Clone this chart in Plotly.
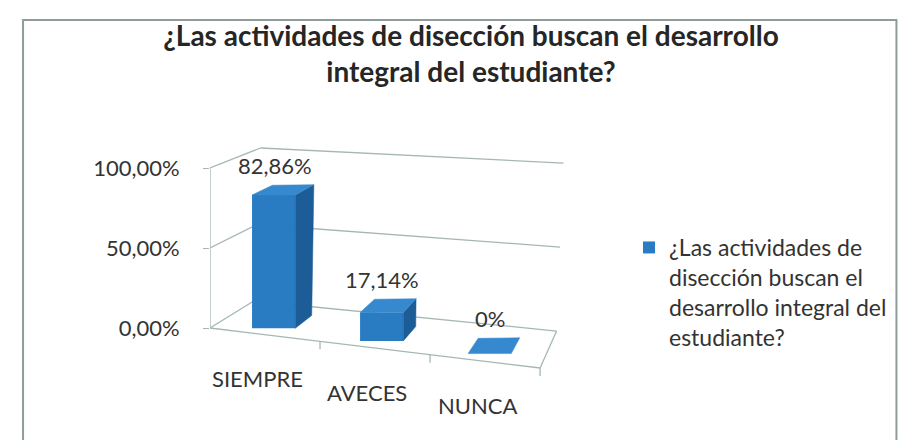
import plotly.graph_objects as go

# ---------------- data ----------------
categories = ["SIEMPRE", "AVECES", "NUNCA"]
values = [0.8286, 0.1714, 0.0]
value_labels = ["82,86%", "17,14%", "0%"]
tick_values = [0.0, 0.5, 1.0]
tick_labels = ["0,00%", "50,00%", "100,00%"]
series_name = "¿Las actividades de disección buscan el desarrollo integral del estudiante?"
legend_text = "¿Las actividades de<br>disección buscan el<br>desarrollo integral del<br>estudiante?"
title_text = "¿Las actividades de disección buscan el desarrollo<br>integral del estudiante?"

# ---------------- layout constants ----------------
W, H = 914, 440
ML, MR, MT, MB = 202, 294, 120, 40
PLOT_W, PLOT_H = W - ML - MR, H - MT - MB
PX_X, PX_Y = 111.0, 160.0     # pixels per axis unit
Y0 = 320                       # pixel row of value 0 on the left wall
X_RANGE = [0, PLOT_W / PX_X]
Y_RANGE = [(Y0 - (H - MB)) / PX_Y, (Y0 - MT) / PX_Y]

FONT = "Lato"
TXT = "#333333"
GRID = "#a6b7b3"
FRONT = "#2a7cc2"
SIDE = "#1c5d98"
TOP = "#3689cf"

# pseudo-3D camera: box corners (u, depth, value) in axis units
CORNERS = {
    (0, 0, 0): (0.000, 0.000), (1, 0, 0): (3.054, -0.250),
    (0, 1, 0): (0.405, 0.169), (1, 1, 0): (3.207, -0.019),
    (0, 0, 1): (0.000, 1.000), (1, 0, 1): (3.090, 0.844),
    (0, 1, 1): (0.468, 1.125), (1, 1, 1): (3.270, 1.031),
}
N = len(categories)


def proj(u, d, v):
    a, b, c = u / N, d, v
    x = y = 0.0
    for (i, j, k), (cx, cy) in CORNERS.items():
        w = (a if i else 1 - a) * (b if j else 1 - b) * (c if k else 1 - c)
        x += w * cx
        y += w * cy
    return x, y


HALF_W, D_FRONT, D_BACK = 0.20, 0.22, 0.66

shapes = []


def seg(p, q, color=GRID, width=1.3):
    shapes.append(dict(type="line", xref="x", yref="y", x0=p[0], y0=p[1], x1=q[0], y1=q[1],
                       line=dict(color=color, width=width), layer="below"))


# walls / gridlines
for t in tick_values:
    seg(proj(0, 0, t), proj(0, 1, t))
    seg(proj(0, 1, t), proj(N, 1, t))
seg(proj(0, 0, 0), proj(0, 0, 1))          # value axis edge
seg(proj(0, 0, 0), proj(N, 0, 0))          # floor front edge
seg(proj(N, 0, 0), proj(N, 1, 0))          # floor right edge
for k in range(1, N + 1):                   # category tick marks
    px, py = proj(k, 0, 0)
    seg((px, py), (px, py - 0.05))


# frame
def paper(px, py):
    return (px - ML) / PLOT_W, (H - MB - py) / PLOT_H


fx0, fy0 = paper(10, 460)
fx1, fy1 = paper(907, 12)
shapes.append(dict(type="rect", xref="paper", yref="paper", x0=fx0, y0=fy0, x1=fx1, y1=fy1,
                   line=dict(color="#8e9d9a", width=2), layer="below"))

# bars
bx, bh, bbase, bw = [], [], [], []
side_x, side_y, top_x, top_y = [], [], [], []
annotations = []
for i, (cat, val, lab) in enumerate(zip(categories, values, value_labels)):
    u = i + 0.5
    xl = proj(u - HALF_W, D_FRONT, 0)[0]
    xr = proj(u + HALF_W, D_FRONT, 0)[0]
    base = proj(u, D_FRONT, 0)[1]
    top = proj(u, D_FRONT, val)[1]
    h = top - base
    bx.append((xl + xr) / 2)
    bw.append(xr - xl)
    bbase.append(base)
    bh.append(h)
    ob = [a - b for a, b in zip(proj(u + HALF_W, D_BACK, 0), proj(u + HALF_W, D_FRONT, 0))]
    otr = [a - b for a, b in zip(proj(u + HALF_W, D_BACK, val), proj(u + HALF_W, D_FRONT, val))]
    otl = [a - b for a, b in zip(proj(u - HALF_W, D_BACK, val), proj(u - HALF_W, D_FRONT, val))]
    if h > 0:
        side_x += [xr, xr, xr + otr[0], xr + ob[0], xr, None]
        side_y += [base, top, top + otr[1], base + ob[1], base, None]
    top_x += [xl, xr, xr + otr[0], xl + otl[0], xl, None]
    top_y += [top, top, top + otr[1], top + otl[1], top, None]
    # value label
    lx = proj(u, D_FRONT, val)[0]
    ly = proj(u, D_BACK, val)[1]
    annotations.append(dict(x=lx, y=ly, xref="x", yref="y", text=lab, showarrow=False,
                            yanchor="bottom", yshift=4, font=dict(family=FONT, size=22, color=TXT)))
    # category label
    cx, cy = proj(u, 0, 0)
    annotations.append(dict(x=cx, y=cy, xref="x", yref="y", text=cat, showarrow=False,
                            yanchor="middle", yshift=-44, xshift=-8,
                            font=dict(family=FONT, size=22, color=TXT)))

fig = go.Figure()
fig.add_trace(go.Bar(x=bx, y=bh, base=bbase, width=bw, name=legend_text,
                     marker=dict(color=FRONT, line=dict(width=0)), hoverinfo="skip"))
fig.add_trace(go.Scatter(x=side_x, y=side_y, mode="lines", fill="toself", fillcolor=SIDE,
                         line=dict(width=0.5, color=SIDE), showlegend=False, hoverinfo="skip"))
fig.add_trace(go.Scatter(x=top_x, y=top_y, mode="lines", fill="toself", fillcolor=TOP,
                         line=dict(width=0.5, color=TOP), showlegend=False, hoverinfo="skip"))

fig.update_layout(
    width=W, height=H, autosize=False,
    margin=dict(l=ML, r=MR, t=MT, b=MB),
    paper_bgcolor="white", plot_bgcolor="white",
    title=dict(text=title_text, x=463 / W, xref="container", xanchor="center",
               y=1 - 38 / H, yref="container", yanchor="top",
               font=dict(family=FONT, size=28, color="#262626", weight="bold")),
    xaxis=dict(range=X_RANGE, visible=False, fixedrange=True),
    yaxis=dict(range=Y_RANGE, tickvals=tick_values, ticktext=tick_labels, showgrid=False,
               zeroline=False, showline=False, ticks="outside", ticklen=6, tickcolor=GRID,
               tickwidth=1.3, ticklabelstandoff=19,
               tickfont=dict(family=FONT, size=22, color=TXT), fixedrange=True),
    showlegend=True,
    legend=dict(xref="container", yref="container", x=621 / W, y=1 - 218 / H,
                xanchor="left", yanchor="top", valign="top",
                font=dict(family=FONT, size=23, color=TXT), bgcolor="rgba(0,0,0,0)"),
    shapes=shapes,
    annotations=annotations,
)

fig.write_html("out.html")
